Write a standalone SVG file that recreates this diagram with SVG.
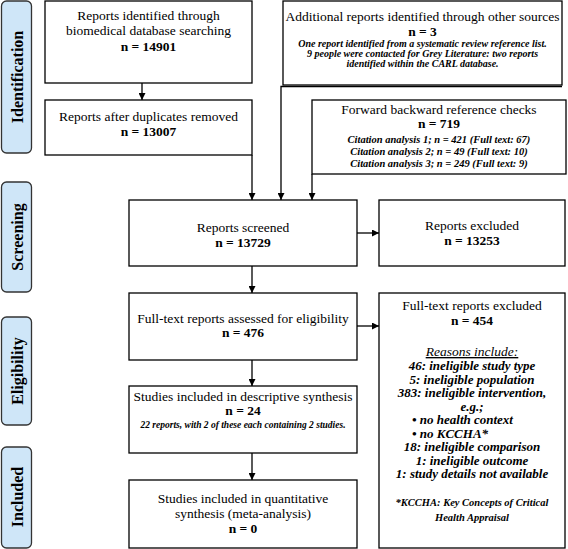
<svg xmlns="http://www.w3.org/2000/svg" width="568" height="549" viewBox="0 0 568 549" font-family="'Liberation Serif', Tinos, 'Times New Roman', 'DejaVu Serif', serif">
<defs>
<marker id="ah" viewBox="0 0 10 10" refX="10" refY="5" markerWidth="7" markerHeight="7" markerUnits="userSpaceOnUse" orient="auto">
<path d="M0,0 L10,5 L0,10 z" fill="#000"/>
</marker>
<style>
.box{fill:#fff;stroke:#000;stroke-width:1.3}
.side{fill:#cfe6f8;stroke:#333;stroke-width:1.3}
.sl{font-weight:bold;font-size:16px;text-anchor:middle;fill:#000}
.t{font-size:13.5px;text-anchor:middle;fill:#000}
.b{font-weight:bold}
.i{font-style:italic;font-weight:bold;text-anchor:middle;fill:#000}
.il{font-style:italic;font-weight:bold;text-anchor:start;fill:#000}
.u{font-style:italic;font-weight:normal;text-anchor:middle;text-decoration:underline;fill:#000}
.c{fill:none;stroke:#000;stroke-width:1.3;marker-end:url(#ah)}
</style>
</defs>
<rect width="568" height="549" fill="#fff"/>
<g id="phases">
<rect class="side" x="1.5" y="1" width="30" height="152" rx="5"/>
<text class="sl" transform="translate(22.5,77) rotate(-90)">Identification</text>
<rect class="side" x="1.5" y="182" width="30" height="110" rx="5"/>
<text class="sl" transform="translate(22.5,237) rotate(-90)">Screening</text>
<rect class="side" x="1.5" y="317" width="30" height="108" rx="5"/>
<text class="sl" transform="translate(22.5,371) rotate(-90)">Eligibility</text>
<rect class="side" x="1.5" y="447" width="30" height="101" rx="5"/>
<text class="sl" transform="translate(22.5,497) rotate(-90)">Included</text>
</g>
<g id="connectors">
<path class="c" d="M142,83 V100"/>
<path class="c" d="M252,155 V200"/>
<path class="c" d="M562,86.5 H281 V200"/>
<path class="c" d="M312,174 V200"/>
<path class="c" d="M357,233 H379"/>
<path class="c" d="M252,266 V293"/>
<path class="c" d="M357,326 H379"/>
<path class="c" d="M252,360 V386"/>
<path class="c" d="M252,453 V480"/>
</g>
<g id="n1">
<rect class="box" x="45" y="1" width="207" height="82"/>
<text class="t" x="148.5" y="20">Reports identified through</text>
<text class="t" x="148.5" y="35">biomedical database searching</text>
<text class="t b" x="148.5" y="51">n = 14901</text>
</g>
<g id="n2">
<rect class="box" x="45" y="100" width="207" height="55"/>
<text class="t" x="148.5" y="121">Reports after duplicates removed</text>
<text class="t b" x="148.5" y="136">n = 13007</text>
</g>
<g id="n3">
<rect class="box" x="283" y="1" width="279" height="84"/>
<text class="t" x="422.5" y="21">Additional reports identified through other sources</text>
<text class="t b" x="422.5" y="35.5">n = 3</text>
<text class="i" font-size="10" x="422.5" y="47">One report identified from a systematic review reference list.</text>
<text class="i" font-size="10" x="422.5" y="57">9 people were contacted for Grey Literature: two reports</text>
<text class="i" font-size="10" x="422.5" y="67">identified within the CARL database.</text>
</g>
<g id="n4">
<rect class="box" x="312" y="100" width="254" height="74"/>
<text class="t" x="439" y="114">Forward backward reference checks</text>
<text class="t b" x="439" y="128">n = 719</text>
<text class="i" font-size="10.5" x="439" y="143">Citation analysis 1; n = 421 (Full text: 67)</text>
<text class="i" font-size="10.5" x="439" y="155">Citation analysis 2; n = 49 (Full text: 10)</text>
<text class="i" font-size="10.5" x="439" y="167">Citation analysis 3; n = 249 (Full text: 9)</text>
</g>
<g id="n5">
<rect class="box" x="129" y="200" width="228" height="66"/>
<text class="t" x="243" y="232">Reports screened</text>
<text class="t b" x="243" y="247">n = 13729</text>
</g>
<g id="n6">
<rect class="box" x="379" y="200" width="186" height="66"/>
<text class="t" x="472" y="230">Reports excluded</text>
<text class="t b" x="472" y="245">n = 13253</text>
</g>
<g id="n7">
<rect class="box" x="129" y="293" width="228" height="67"/>
<text class="t" x="243" y="323">Full-text reports assessed for eligibility</text>
<text class="t b" x="243" y="337">n = 476</text>
</g>
<g id="n8">
<rect class="box" x="129" y="386" width="228" height="67"/>
<text class="t" x="243" y="401">Studies included in descriptive synthesis</text>
<text class="t b" x="243" y="415">n = 24</text>
<text class="i" font-size="9.5" x="243" y="427.5">22 reports, with 2 of these each containing 2 studies.</text>
</g>
<g id="n9">
<rect class="box" x="129" y="480" width="228" height="68"/>
<text class="t" x="243" y="503">Studies included in quantitative</text>
<text class="t" x="243" y="518">synthesis (meta-analysis)</text>
<text class="t b" x="243" y="533">n = 0</text>
</g>
<g id="n10">
<rect class="box" x="379" y="293" width="186" height="255"/>
<text class="t" x="472" y="310">Full-text reports excluded</text>
<text class="t b" x="472" y="325">n = 454</text>
<text class="u" font-size="13.5" x="472" y="356">Reasons include:</text>
<text class="i" font-size="13" x="472" y="370">46: ineligible study type</text>
<text class="i" font-size="13" x="472" y="383.5">5: ineligible population</text>
<text class="i" font-size="13" x="472" y="397">383: ineligible intervention,</text>
<text class="i" font-size="13" x="472" y="410.5">e.g.;</text>
<text class="il" font-size="13" x="412" y="424">• no health context</text>
<text class="il" font-size="13" x="412" y="437.5">• no KCCHA*</text>
<text class="i" font-size="13" x="472" y="451">18: ineligible comparison</text>
<text class="i" font-size="13" x="472" y="464.5">1: ineligible outcome</text>
<text class="i" font-size="13" x="472" y="478">1: study details not available</text>
<text class="i" font-size="10.5" x="472" y="506">*KCCHA: Key Concepts of Critical</text>
<text class="i" font-size="10.5" x="472" y="521">Health Appraisal</text>
</g>
</svg>
